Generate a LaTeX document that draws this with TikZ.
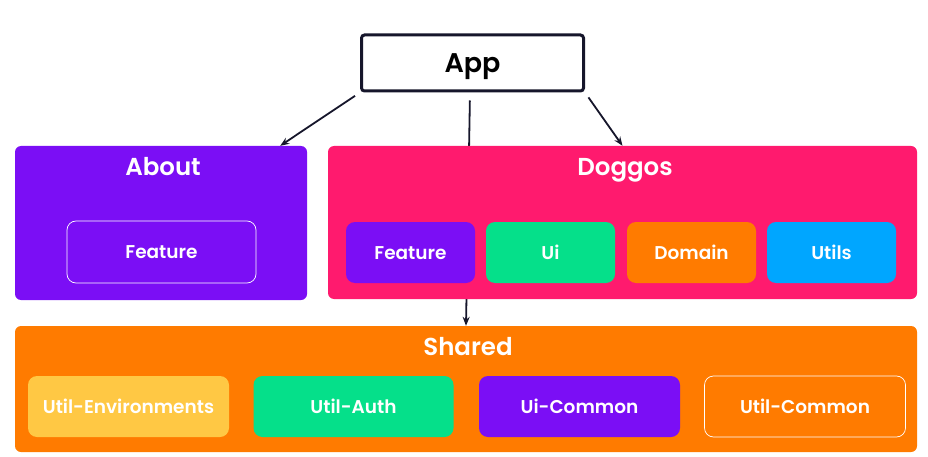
\documentclass[tikz,border=0pt]{standalone}
\usepackage{fontspec}
\setmainfont{Poppins}[BoldFont={Poppins SemiBold}]
\usetikzlibrary{arrows.meta,backgrounds}
\definecolor{appline}{HTML}{16162B}
\definecolor{modpurple}{HTML}{7B0EF5}
\definecolor{modpink}{HTML}{FF1A6E}
\definecolor{modgreen}{HTML}{05E08A}
\definecolor{modorange}{HTML}{FF7B00}
\definecolor{modblue}{HTML}{00A6FF}
\definecolor{modyellow}{HTML}{FFC844}
\tikzset{
  group/.style={rectangle, rounded corners=6pt, inner sep=0pt},
  lib/.style={rectangle, rounded corners=9pt, inner sep=0pt, text=white, text height=13pt, text depth=0pt, font=\bfseries\fontsize{18.5}{22}\selectfont},
  title/.style={text=white, text height=17pt, text depth=0pt, font=\bfseries\fontsize{24.5}{28}\selectfont},
  arr/.style={-{Stealth[length=9pt,width=7pt]}, line width=1.8pt, draw=appline},
}
\begin{document}
\begin{tikzpicture}[x=1pt,y=-1pt]
\useasboundingbox (0,0) rectangle (928,457);
\node[rectangle, rounded corners=3pt, draw=appline, line width=3pt, fill=white, minimum width=222pt, minimum height=56pt, text height=19pt, text depth=0pt, font=\bfseries\fontsize{27}{30}\selectfont] (app) at (472.5,63){App};
% about
\node[group, fill=modpurple, minimum width=292pt, minimum height=154pt] (about) at (161,223){};
\node[title] (abouttitle) at (163,167){About};
\node[lib, draw=white, line width=0.7pt, minimum width=189pt, minimum height=62pt] (aboutfeature) at (161.5,252){Feature};
% doggos
\node[group, fill=modpink, minimum width=589pt, minimum height=153pt] (doggos) at (622.5,222.5){};
\node[title] (doggostitle) at (625,167){Doggos};
\node[lib, fill=modpurple, minimum width=129pt, minimum height=61pt] (dfeature) at (410.5,252.5){Feature};
\node[lib, fill=modgreen, minimum width=129pt, minimum height=61pt] (dui) at (550.5,252.5){Ui};
\node[lib, fill=modorange, minimum width=129pt, minimum height=61pt] (ddomain) at (691.5,252.5){Domain};
\node[lib, fill=modblue, minimum width=129pt, minimum height=61pt] (dutils) at (831.5,252.5){Utils};
% shared
\node[group, fill=modorange, minimum width=902pt, minimum height=126pt] (shared) at (466,389){};
\node[title] (sharedtitle) at (468,347){Shared};
\node[lib, fill=modyellow, minimum width=201pt, minimum height=61pt] (senv) at (128.5,406.5){Util-Environments};
\node[lib, fill=modgreen, minimum width=200pt, minimum height=61pt] (sauth) at (353.5,406.5){Util-Auth};
\node[lib, fill=modpurple, minimum width=201pt, minimum height=61pt] (suicommon) at (579.5,406.5){Ui-Common};
\node[lib, draw=white, line width=0.7pt, minimum width=201pt, minimum height=61pt] (sutilcommon) at (805,406.5){Util-Common};
\draw[arr, shorten <=6pt](app.south west) -- ([xshift=-27pt]about.north east);
\draw[arr, shorten <=6pt](app.south east) -- (doggos.north);
\begin{scope}[on background layer]
\draw[arr, shorten <=8pt]([xshift=-2.5pt]app.south) -- ([xshift=0pt]shared.north);
\end{scope}
\end{tikzpicture}
\end{document}
